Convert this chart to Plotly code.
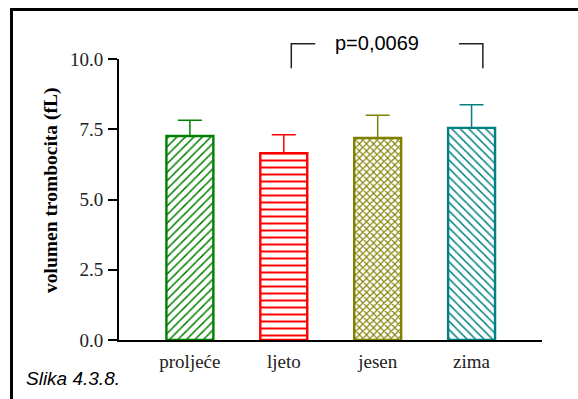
import plotly.graph_objects as go

# ---- data ----
categories = ["proljeće", "ljeto", "jesen", "zima"]
means = [7.26, 6.65, 7.19, 7.55]
sd_upper = [0.56, 0.65, 0.81, 0.82]
colors = ["#008000", "#ff0000", "#808000", "#008080"]
patterns = ["/", "-", "x", "\\"]
pattern_sizes = [6, 7, 5, 6]
pattern_solidity = [0.25, 0.28, 0.4, 0.25]
y_ticks = [0.0, 2.5, 5.0, 7.5, 10.0]
p_label = "p=0,0069"
bracket_level = 10.54
bracket_drop = 9.67
caption = "Slika 4.3.8."
y_title = "volumen trombocita (fL)"

W, H = 578, 399
L, R, T, B = 119, 36, 59, 59
pw, ph = W - L - R, H - T - B
ymax = 10.0


def px_x(px):
    return (px - L) / pw


def px_y(py):
    return (H - B - py) / ph


fig = go.Figure()
for i, cat in enumerate(categories):
    fig.add_trace(go.Bar(
        x=[i], y=[means[i]], width=0.5,
        marker=dict(
            color="white",
            line=dict(color=colors[i], width=2.4),
            pattern=dict(shape=patterns[i], fgcolor=colors[i], bgcolor="white",
                         size=pattern_sizes[i], solidity=pattern_solidity[i],
                         fillmode="overlay", fgopacity=1),
        ),
        error_y=dict(type="data", symmetric=False, array=[sd_upper[i]],
                     arrayminus=[0], color=colors[i], thickness=1.5, width=12),
        showlegend=False,
    ))

shapes = []
# significance brackets (left near ljeto, right near zima)
yl = bracket_level / ymax
yd = bracket_drop / ymax
shapes.append(dict(type="path", xref="x", yref="paper",
                   path=f"M 1.08,{yd} L 1.08,{yl} L 1.335,{yl}",
                   line=dict(color="#222222", width=1.5)))
shapes.append(dict(type="path", xref="x", yref="paper",
                   path=f"M 2.865,{yl} L 3.12,{yl} L 3.12,{yd}",
                   line=dict(color="#222222", width=1.5)))
# outer frame (right and bottom edges fall outside the picture)
shapes.append(dict(type="rect", xref="paper", yref="paper",
                   x0=px_x(11.5), y0=px_y(460), x1=px_x(650), y1=px_y(9.5),
                   line=dict(color="black", width=3)))

annotations = [
    dict(text=p_label, x=px_x(377), y=px_y(43), xref="paper", yref="paper",
         showarrow=False, xanchor="center", yanchor="middle",
         font=dict(family="Liberation Sans, Arial", size=20, color="black")),
    dict(text=f"<i>{caption}</i>", x=px_x(24), y=px_y(378), xref="paper", yref="paper",
         showarrow=False, xanchor="left", yanchor="middle",
         font=dict(family="Liberation Sans, Arial", size=19, color="black")),
    dict(text=f"<b>{y_title}</b>", x=px_x(51), y=px_y(191), xref="paper", yref="paper",
         showarrow=False, xanchor="center", yanchor="middle", textangle=-90,
         font=dict(family="Liberation Serif, Times New Roman", size=19.5, color="black")),
]

fig.update_layout(
    width=W, height=H,
    margin=dict(l=L, r=R, t=T, b=B, pad=0),
    paper_bgcolor="white", plot_bgcolor="white",
    shapes=shapes, annotations=annotations,
    xaxis=dict(
        range=[-0.755, 3.75], tickmode="array", tickvals=list(range(len(categories))),
        ticktext=categories, showline=True, linecolor="black", linewidth=2,
        ticks="", showgrid=False, zeroline=False,
        tickfont=dict(family="Liberation Serif, Times New Roman", size=19, color="#222222"),
        ticklabelstandoff=3,
    ),
    yaxis=dict(
        range=[0, ymax], tickmode="array", tickvals=y_ticks,
        ticktext=[f"{v:.1f}" for v in y_ticks], showline=True, linecolor="black",
        linewidth=2, ticks="outside", ticklen=9, tickwidth=2, tickcolor="black",
        showgrid=False, zeroline=False, ticklabelstandoff=1,
        tickfont=dict(family="Liberation Serif, Times New Roman", size=19, color="#222222"),
    ),
)

fig.write_html("out.html")
